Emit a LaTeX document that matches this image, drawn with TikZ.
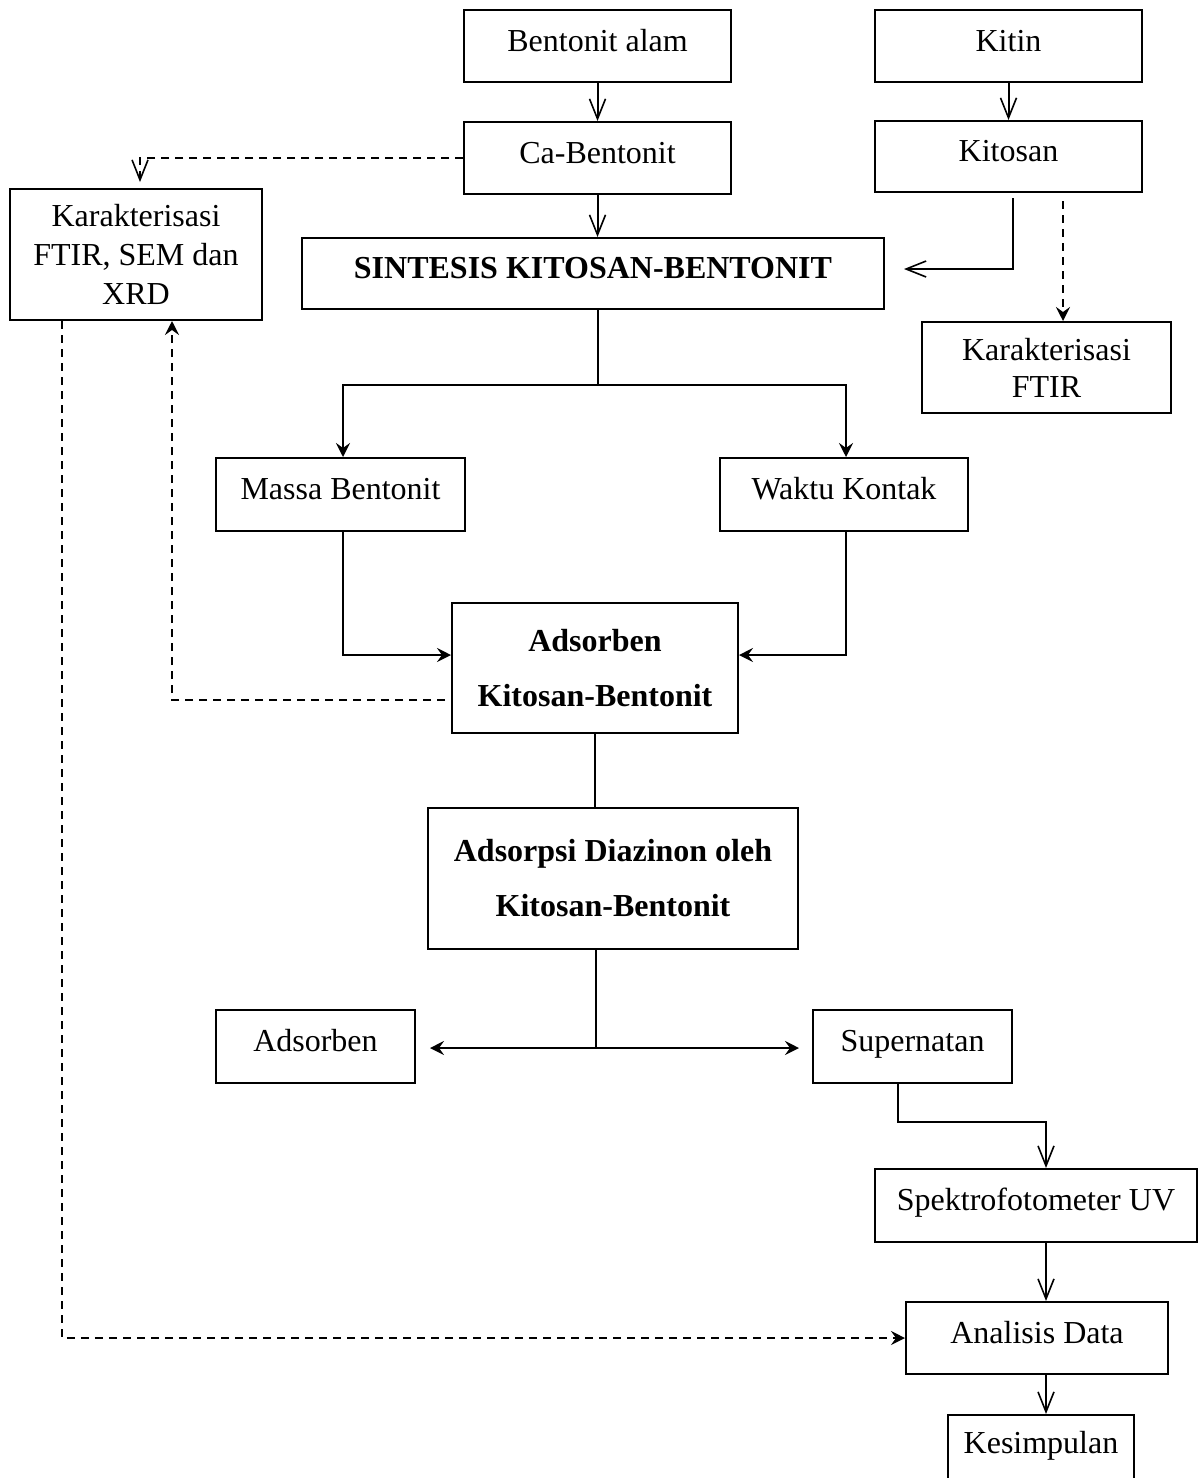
\documentclass[tikz,border=0pt]{standalone}
\usepackage{fontspec}
\setmainfont{Liberation Serif}
\usetikzlibrary{arrows.meta}
\tikzset{
  bx/.style 2 args={draw, line width=1pt, minimum width=#1*0.5pt, minimum height=#2*0.5pt,
     inner sep=0pt, align=center, font=\fontsize{16}{19.5}\selectfont},
  one/.style={text height=11pt, text depth=6pt},
  bd/.style={font=\fontsize{16}{19.5}\selectfont\bfseries},
  ln/.style={line width=1pt},
  ov/.style={ln, -{Straight Barb[length=10pt, width=8pt, line width=0.8pt]}},
  fa/.style={ln, -{Stealth[length=7pt, width=7pt, inset=2.5pt]}},
  fab/.style={ln, {Stealth[length=7pt, width=7pt, inset=2.5pt]}-{Stealth[length=7pt, width=7pt, inset=2.5pt]}},
  dsh/.style={dash pattern=on 4pt off 3pt}
}
\begin{document}
\begin{tikzpicture}[x=0.5pt, y=-0.5pt]
\useasboundingbox (0,0) rectangle (1198,1478);
% boxes
\node[bx={267}{72}, one] (ba) at (597.5,46) {Bentonit alam};
\node[bx={267}{72}, one] (cb) at (597.5,158) {Ca-Bentonit};
\node[bx={267}{72}, one] (kitin) at (1008.5,46) {Kitin};
\node[bx={267}{71}, one] (kitosan) at (1008.5,156.5) {Kitosan};
\node[bx={582}{71}, one, bd] (sint) at (593,273.5) {SINTESIS KITOSAN-BENTONIT};
\node[bx={252}{131}] (kar1) at (136,254.5) {Karakterisasi\\FTIR, SEM dan\\XRD};
\node[bx={249}{91}] (kar2) at (1046.5,367.5) {Karakterisasi\\[-1pt]FTIR};
\node[bx={249}{73}, one] (massa) at (340.5,494.5) {Massa Bentonit};
\node[bx={248}{73}, one] (waktu) at (844,494.5) {Waktu Kontak};
\node[bx={286}{130}, bd] (ads) at (595,668) {Adsorben\\[8pt]Kitosan-Bentonit};
\node[bx={370}{141}, bd] (adsorpsi) at (613,878.5) {Adsorpsi Diazinon oleh\\[8pt]Kitosan-Bentonit};
\node[bx={199}{73}, one] (adsorben) at (315.5,1046.5) {Adsorben};
\node[bx={199}{73}, one] (super) at (912.5,1046.5) {Supernatan};
\node[bx={322}{73}, one] (spek) at (1036,1205.5) {Spektrofotometer UV};
\node[bx={262}{72}, one] (anal) at (1037,1338) {Analisis Data};
\node[bx={186}{66}, one] (kes) at (1041,1448) {Kesimpulan};
% connectors
\draw[ov] (ba) -- (cb);
\draw[ov] (cb.south) -- (cb.south |- sint.north);
\draw[ov, dsh] (cb.west) -| ([xshift=2pt, yshift=3pt]kar1.north);
\draw[ov] (kitin) -- (kitosan);
\draw[ov] ([xshift=2.25pt, yshift=-2.5pt]kitosan.south) |- ([xshift=9.5pt, yshift=2.25pt]sint.east);
\draw[fa, dsh] ([xshift=27.25pt, yshift=-4pt]kitosan.south) -- ([xshift=8.25pt]kar2.north);
\coordinate (j1) at ([xshift=2.5pt, yshift=-37.5pt]sint.south);
\draw[ln] ([xshift=2.5pt]sint.south) -- (j1);
\draw[fa] (j1) -| ([xshift=1.25pt]massa.north);
\draw[fa] (j1) -| ([xshift=1pt]waktu.north);
\draw[fa] ([xshift=1.25pt]massa.south) |- ([yshift=6.5pt]ads.west);
\draw[fa] ([xshift=1pt]waktu.south) |- ([yshift=6.5pt]ads.east);
\draw[fa, dsh] ([xshift=-3pt, yshift=-16pt]ads.west) -| ([xshift=18pt]kar1.south);
\draw[fa, dsh] ([xshift=-37pt]kar1.south) |- (anal.west);
\draw[ln] (ads.south) -- (ads.south |- adsorpsi.north);
\coordinate (j2) at ([xshift=-8.5pt, yshift=-49pt]adsorpsi.south);
\draw[ln] ([xshift=-8.5pt]adsorpsi.south) -- (j2);
\draw[fab] ([xshift=7pt]adsorben.east |- j2) -- ([xshift=-6.5pt]super.west |- j2);
\coordinate (j3) at ([xshift=-7.25pt, yshift=-19pt]super.south);
\draw[ov] ([xshift=-7.25pt]super.south) -- (j3) -| ([xshift=5pt]spek.north);
\draw[ov] ([xshift=5pt]spek.south) -- ([xshift=5pt]spek.south |- anal.north);
\draw[ov] ([xshift=4.5pt]anal.south) -- ([xshift=4.5pt]anal.south |- kes.north);
\end{tikzpicture}
\end{document}
